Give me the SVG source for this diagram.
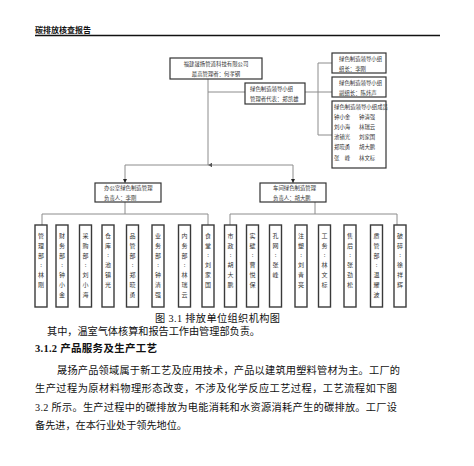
<svg xmlns="http://www.w3.org/2000/svg" width="474" height="466" viewBox="0 0 474 466">
<defs>
<style>
.bg{fill:#fff}
.box{fill:#fff;stroke:#333;stroke-width:1.2}
.vbox{fill:#fff;stroke:#3a3a3a;stroke-width:1.4}
.ln{fill:none;stroke:#8c8c8c;stroke-width:1}
.t{font-family:"Noto Sans CJK SC","Liberation Sans",sans-serif;font-size:5.4px;fill:#333}
.v{font-family:"Noto Sans CJK SC","Liberation Sans",sans-serif;font-size:6px;fill:#333;text-anchor:middle}
.body{font-family:"Liberation Serif","Noto Sans CJK SC",serif;font-size:10.2px;fill:#111}
.hd{font-family:"Liberation Serif","Noto Sans CJK SC",serif;font-size:10.5px;font-weight:bold;fill:#111}
</style>
<marker id="ar" markerWidth="4" markerHeight="4" refX="2" refY="4" orient="auto-start-reverse" markerUnits="userSpaceOnUse" viewBox="0 0 4 4">
<path d="M0 0 L4 0 L2 4 Z" fill="#222"/>
</marker>
</defs>
<rect class="bg" x="0" y="0" width="474" height="466"/>
<text x="35" y="33" style="font-family:'Noto Sans CJK SC',sans-serif;font-size:8px;font-weight:bold;fill:#111">碳排放核查报告</text>
<line x1="35" y1="35.5" x2="440" y2="35.5" stroke="#111" stroke-width="1.3"/>

<g id="connectors">
<path class="ln" d="M208 79 V165" marker-end="url(#ar)"/>
<path class="ln" d="M208 92 H245"/>
<path class="ln" d="M125 183 V165 H293 V183"/>
<path d="M123 179 L127 179 L125 183 Z M291 179 L295 179 L293 183 Z" fill="#222"/>
<path class="ln" d="M305 92 H332"/>
<path class="ln" d="M332 63 H318 V135 H332"/>
<path class="ln" d="M125 202 V214"/>
<path class="ln" d="M42 225 V214 H208 V225"/>
<path class="ln" d="M315 202 V214"/>
<path class="ln" d="M230 225 V214 H397 V225"/>
</g>

<g id="n-top">
<rect class="box" x="170" y="58" width="92" height="21"/>
<text class="t" x="216" y="65.5" text-anchor="middle">福建晟扬管道科技有限公司</text>
<text class="t" x="216" y="75.5" text-anchor="middle">最高管理者：何孝钢</text>
</g>
<g id="n-lead">
<rect class="box" x="245" y="83" width="60" height="21"/>
<text class="t" x="250" y="90.5">绿色制造领导小组</text>
<text class="t" x="250" y="100.5">管理者代表：郑凯雄</text>
</g>
<g id="n-leader">
<rect class="box" x="332" y="53" width="54" height="20"/>
<text class="t" x="339" y="60.5">绿色制造领导小组</text>
<text class="t" x="339" y="70.5">组长：李刚</text>
</g>
<g id="n-vice">
<rect class="box" x="332" y="77" width="54" height="20"/>
<text class="t" x="339" y="84.5">绿色制造领导小组</text>
<text class="t" x="339" y="94.5">副组长：陈炜声</text>
</g>
<g id="n-members">
<rect class="box" x="332" y="101" width="54" height="67"/>
<text class="t" x="334" y="108.5">绿色制造领导小组成员</text>
<text class="t" x="334" y="119">钟小金</text><text class="t" x="359" y="119">钟清强</text>
<text class="t" x="334" y="129">刘小海</text><text class="t" x="359" y="129">林瑞云</text>
<text class="t" x="334" y="139">池镇光</text><text class="t" x="359" y="139">刘家国</text>
<text class="t" x="334" y="149">郑晓勇</text><text class="t" x="359" y="149">胡大鹏</text>
<text class="t" x="334" y="160">张　峰</text><text class="t" x="359" y="160">林文标</text>
</g>
<g id="n-office">
<rect class="box" x="95" y="183" width="66" height="19"/>
<text class="t" x="104" y="190">办公室绿色制造管理</text>
<text class="t" x="104" y="200">负责人：李刚</text>
</g>
<g id="n-prod">
<rect class="box" x="260" y="183" width="66" height="19"/>
<text class="t" x="273" y="190">车间绿色制造管理</text>
<text class="t" x="273" y="200">负责人：胡大鹏</text>
</g>

<g id="d1"><rect class="vbox" x="35" y="225" width="12" height="82"/><text class="v" y="238"><tspan x="41">管</tspan><tspan x="41" dy="10">理</tspan><tspan x="41" dy="10">部</tspan><tspan x="41" dy="9">:</tspan><tspan x="41" dy="10">林</tspan><tspan x="41" dy="10">刚</tspan></text></g>
<g id="d2"><rect class="vbox" x="56" y="225" width="12" height="82"/><text class="v" y="238"><tspan x="62">财</tspan><tspan x="62" dy="10">务</tspan><tspan x="62" dy="10">部</tspan><tspan x="62" dy="9">:</tspan><tspan x="62" dy="10">钟</tspan><tspan x="62" dy="10">小</tspan><tspan x="62" dy="10">金</tspan></text></g>
<g id="d3"><rect class="vbox" x="79.5" y="225" width="12" height="82"/><text class="v" y="238"><tspan x="85.5">采</tspan><tspan x="85.5" dy="10">购</tspan><tspan x="85.5" dy="10">部</tspan><tspan x="85.5" dy="9">:</tspan><tspan x="85.5" dy="10">刘</tspan><tspan x="85.5" dy="10">小</tspan><tspan x="85.5" dy="10">海</tspan></text></g>
<g id="d4"><rect class="vbox" x="102" y="225" width="12" height="82"/><text class="v" y="238"><tspan x="108">仓</tspan><tspan x="108" dy="10">库</tspan><tspan x="108" dy="9">:</tspan><tspan x="108" dy="10">池</tspan><tspan x="108" dy="10">镇</tspan><tspan x="108" dy="10">光</tspan></text></g>
<g id="d5"><rect class="vbox" x="126.5" y="225" width="12" height="82"/><text class="v" y="238"><tspan x="132.5">品</tspan><tspan x="132.5" dy="10">管</tspan><tspan x="132.5" dy="10">部</tspan><tspan x="132.5" dy="9">:</tspan><tspan x="132.5" dy="10">郑</tspan><tspan x="132.5" dy="10">晓</tspan><tspan x="132.5" dy="10">勇</tspan></text></g>
<g id="d6"><rect class="vbox" x="152" y="225" width="12" height="82"/><text class="v" y="238"><tspan x="158">业</tspan><tspan x="158" dy="10">务</tspan><tspan x="158" dy="10">部</tspan><tspan x="158" dy="9">:</tspan><tspan x="158" dy="10">钟</tspan><tspan x="158" dy="10">清</tspan><tspan x="158" dy="10">强</tspan></text></g>
<g id="d7"><rect class="vbox" x="178.5" y="225" width="12" height="82"/><text class="v" y="238"><tspan x="184.5">内</tspan><tspan x="184.5" dy="10">务</tspan><tspan x="184.5" dy="10">部</tspan><tspan x="184.5" dy="9">:</tspan><tspan x="184.5" dy="10">林</tspan><tspan x="184.5" dy="10">瑞</tspan><tspan x="184.5" dy="10">云</tspan></text></g>
<g id="d8"><rect class="vbox" x="202" y="225" width="12" height="82"/><text class="v" y="238"><tspan x="208">食</tspan><tspan x="208" dy="10">堂</tspan><tspan x="208" dy="9">:</tspan><tspan x="208" dy="10">刘</tspan><tspan x="208" dy="10">家</tspan><tspan x="208" dy="10">国</tspan></text></g>
<g id="d9"><rect class="vbox" x="224.5" y="225" width="12" height="82"/><text class="v" y="238"><tspan x="230.5">市</tspan><tspan x="230.5" dy="10">政</tspan><tspan x="230.5" dy="9">:</tspan><tspan x="230.5" dy="10">胡</tspan><tspan x="230.5" dy="10">大</tspan><tspan x="230.5" dy="10">鹏</tspan></text></g>
<g id="d10"><rect class="vbox" x="246.5" y="225" width="12" height="82"/><text class="v" y="238"><tspan x="252.5">实</tspan><tspan x="252.5" dy="10">壁</tspan><tspan x="252.5" dy="9">:</tspan><tspan x="252.5" dy="10">曹</tspan><tspan x="252.5" dy="10">悦</tspan><tspan x="252.5" dy="10">保</tspan></text></g>
<g id="d11"><rect class="vbox" x="269.5" y="225" width="12" height="82"/><text class="v" y="238"><tspan x="275.5">孔</tspan><tspan x="275.5" dy="10">网</tspan><tspan x="275.5" dy="9">:</tspan><tspan x="275.5" dy="10">张</tspan><tspan x="275.5" dy="10">峰</tspan></text></g>
<g id="d12"><rect class="vbox" x="295" y="225" width="12" height="82"/><text class="v" y="238"><tspan x="301">注</tspan><tspan x="301" dy="10">塑</tspan><tspan x="301" dy="9">:</tspan><tspan x="301" dy="10">刘</tspan><tspan x="301" dy="10">青</tspan><tspan x="301" dy="10">亮</tspan></text></g>
<g id="d13"><rect class="vbox" x="318.5" y="225" width="12" height="82"/><text class="v" y="238"><tspan x="324.5">工</tspan><tspan x="324.5" dy="10">务</tspan><tspan x="324.5" dy="9">:</tspan><tspan x="324.5" dy="10">林</tspan><tspan x="324.5" dy="10">文</tspan><tspan x="324.5" dy="10">标</tspan></text></g>
<g id="d14"><rect class="vbox" x="344" y="225" width="12" height="82"/><text class="v" y="238"><tspan x="350">售</tspan><tspan x="350" dy="10">后</tspan><tspan x="350" dy="9">:</tspan><tspan x="350" dy="10">张</tspan><tspan x="350" dy="10">劲</tspan><tspan x="350" dy="10">松</tspan></text></g>
<g id="d15"><rect class="vbox" x="370.5" y="225" width="12" height="82"/><text class="v" y="238"><tspan x="376.5">质</tspan><tspan x="376.5" dy="10">管</tspan><tspan x="376.5" dy="10">部</tspan><tspan x="376.5" dy="9">:</tspan><tspan x="376.5" dy="10">温</tspan><tspan x="376.5" dy="10">耀</tspan><tspan x="376.5" dy="10">波</tspan></text></g>
<g id="d16"><rect class="vbox" x="394" y="225" width="12" height="82"/><text class="v" y="238"><tspan x="400">破</tspan><tspan x="400" dy="10">碎</tspan><tspan x="400" dy="9">:</tspan><tspan x="400" dy="10">徐</tspan><tspan x="400" dy="10">祥</tspan><tspan x="400" dy="10">辉</tspan></text></g>

<text class="body" x="155" y="322" textLength="125" lengthAdjust="spacing">图 3.1  排放单位组织机构图</text>
<text class="body" x="47" y="335" textLength="213" lengthAdjust="spacing">其中，温室气体核算和报告工作由管理部负责。</text>
<text class="hd" x="35" y="352" textLength="122" lengthAdjust="spacing">3.1.2  产品服务及生产工艺</text>
<text class="body" x="57" y="374" textLength="343" lengthAdjust="spacing">晟扬产品领域属于新工艺及应用技术，产品以建筑用塑料管材为主。工厂的</text>
<text class="body" x="35" y="392" textLength="362" lengthAdjust="spacing">生产过程为原材料物理形态改变，不涉及化学反应工艺过程，工艺流程如下图</text>
<text class="body" x="35" y="411" textLength="362" lengthAdjust="spacing">3.2 所示。生产过程中的碳排放为电能消耗和水资源消耗产生的碳排放。工厂设</text>
<text class="body" x="35" y="429" textLength="152" lengthAdjust="spacing">备先进，在本行业处于领先地位。</text>
</svg>
